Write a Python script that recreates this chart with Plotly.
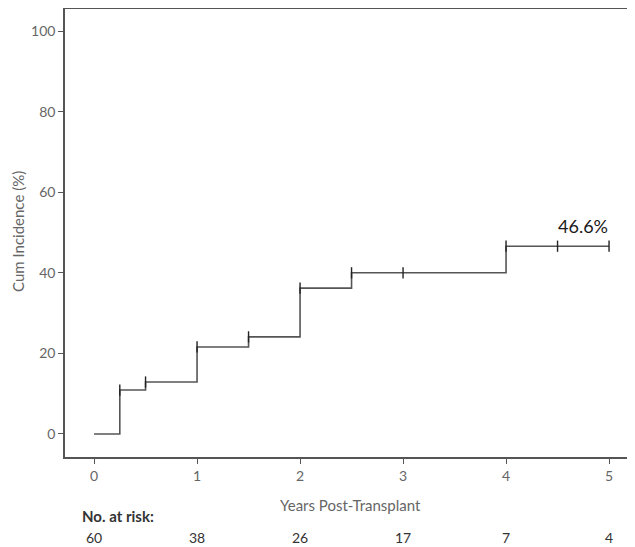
import plotly.graph_objects as go

# Step curve (cumulative incidence, %)
step_x = [0, 0.25, 0.25, 0.5, 0.5, 1.0, 1.0, 1.5, 1.5, 2.0, 2.0, 2.5, 2.5, 4.0, 4.0, 5.0]
step_y = [0, 0, 10.9, 10.9, 12.9, 12.9, 21.6, 21.6, 24.1, 24.1, 36.2, 36.2, 40.0, 40.0, 46.6, 46.6]

# Censor marks
cens_x = [0.25, 0.5, 1.0, 1.5, 2.0, 2.5, 3.0, 4.0, 4.5, 5.0]
cens_y = [10.9, 12.9, 21.6, 24.1, 36.2, 40.0, 40.0, 46.6, 46.6, 46.6]

# Number at risk
risk_times = [0, 1, 2, 3, 4, 5]
risk_counts = [60, 38, 26, 17, 7, 4]

x_ticks = [0, 1, 2, 3, 4, 5]
y_ticks = [0, 20, 40, 60, 80, 100]

FONT = "Lato"
GRAY = "#666666"

# page body has an 8px default margin; layout computed in screen pixels
OFF = 8
L, T = 65 - OFF, 9 - OFF
B_SCREEN = 457
PLOT_H = B_SCREEN - 9
PLOT_W = 635 - L

fig = go.Figure()
fig.add_trace(go.Scatter(x=step_x, y=step_y, mode="lines",
                         line=dict(color="#555555", width=1.6), showlegend=False,
                         hoverinfo="skip"))
fig.add_trace(go.Scatter(x=cens_x, y=cens_y, mode="markers",
                         marker=dict(symbol="line-ns-open", size=8, color="#222222",
                                     line=dict(color="#222222", width=1.4)),
                         showlegend=False))

fig.add_annotation(x=4.75, y=51.6, xref="x", yref="y", text="46.6%",
                   showarrow=False, font=dict(family=FONT, size=18, color="#1a1a1a"))

def py(pix):
    return (B_SCREEN - pix) / PLOT_H
def px(pix):
    return (pix - 65) / PLOT_W

fig.add_annotation(x=px(350), y=py(505), xref="paper", yref="paper",
                   xanchor="center", yanchor="middle",
                   text="Years Post-Transplant", showarrow=False,
                   font=dict(family=FONT, size=15, color=GRAY))
fig.add_annotation(x=px(80), y=py(516), xref="paper", yref="paper",
                   xanchor="left", yanchor="middle", text="<b>No. at risk:</b>", showarrow=False,
                   font=dict(family=FONT, size=15, color="#333333"))
fig.add_annotation(x=px(18), y=py(232), xref="paper", yref="paper",
                   xanchor="center", yanchor="middle",
                   text="Cum Incidence (%)", textangle=-90, showarrow=False,
                   font=dict(family=FONT, size=15, color=GRAY))
for t, c in zip(risk_times, risk_counts):
    fig.add_annotation(x=t, y=py(537), xref="x", yref="paper",
                       xanchor="center", yanchor="middle",
                       text=str(c), showarrow=False,
                       font=dict(family=FONT, size=14, color="#333333"))

fig.update_layout(
    width=635, height=547,
    margin=dict(l=L, r=0, t=T, b=547 - T - PLOT_H),
    plot_bgcolor="white", paper_bgcolor="white",
    font=dict(family=FONT, color=GRAY),
    xaxis=dict(range=[-0.282, -0.282 + PLOT_W / 103.0], tickvals=x_ticks,
               showgrid=False, zeroline=False, automargin=False,
               showline=True, linecolor="#555555", linewidth=1.5, mirror=True,
               ticks="outside", ticklen=5, tickcolor="#555555",
               tickfont=dict(family=FONT, size=14, color=GRAY)),
    yaxis=dict(range=[-5.71, 105.46], tickvals=y_ticks, showgrid=False, zeroline=False,
               automargin=False,
               showline=True, linecolor="#555555", linewidth=1.5,
               ticks="outside", ticklen=5, tickcolor="#555555",
               tickfont=dict(family=FONT, size=14, color=GRAY)),
)

fig.write_html("out.html")
